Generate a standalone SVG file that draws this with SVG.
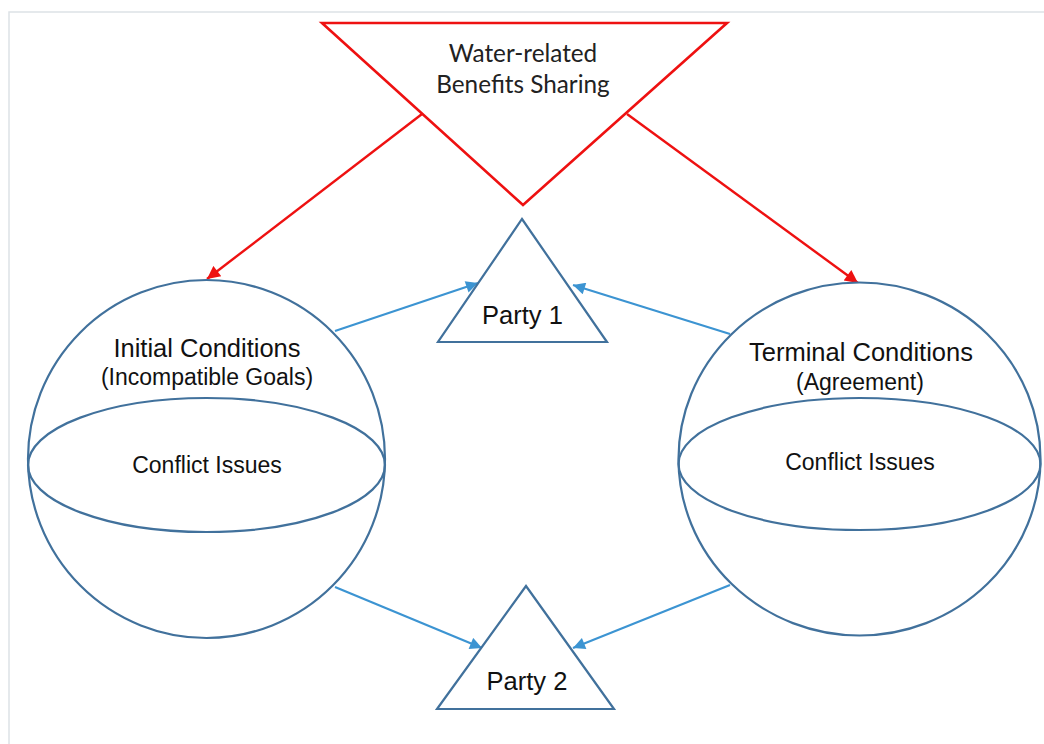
<svg xmlns="http://www.w3.org/2000/svg" width="1044" height="744" viewBox="0 0 1044 744">
  <style>
    .frame { fill: none; stroke: #dde2e6; stroke-width: 1.5; }
    .shape { fill: #ffffff; stroke: #41719c; stroke-width: 2.2; }
    .band { fill: none; stroke: #41719c; stroke-width: 2.2; }
    .source { fill: #ffffff; stroke: #ee1111; stroke-width: 2.6; }
    .red { fill: none; stroke: #ee1111; stroke-width: 2.4; marker-end: url(#headRed); }
    .blue { fill: none; stroke: #3c94d2; stroke-width: 2.2; marker-end: url(#headBlue); }
    .lbl { font-family: "Liberation Sans", Arial, sans-serif; fill: #111111; text-anchor: middle; }
    .big { font-size: 25.5px; }
    .mid { font-size: 23px; }
    .top { font-family: Lato, "Open Sans", sans-serif; font-size: 24.3px; fill: #222222; text-anchor: middle; }
  </style>
  <defs>
    <marker id="headRed" viewBox="0 0 10 10" refX="10" refY="5" markerUnits="userSpaceOnUse" markerWidth="15" markerHeight="13" orient="auto">
      <path d="M0,0 L10,5 L0,10 Z" fill="#ee1111"/>
    </marker>
    <marker id="headBlue" viewBox="0 0 10 10" refX="10" refY="5" markerUnits="userSpaceOnUse" markerWidth="14" markerHeight="12" orient="auto">
      <path d="M0,0 L10,5 L0,10 Z" fill="#3c94d2"/>
    </marker>
  </defs>

  <rect width="1044" height="744" fill="#ffffff"/>
  <path class="frame" d="M9,744 V12 H1044"/>

  <!-- connectors -->
  <g id="connectors">
    <line class="red" x1="422" y1="114" x2="207" y2="279"/>
    <line class="red" x1="627" y1="114" x2="858" y2="283"/>
    <line class="blue" x1="335" y1="331" x2="478" y2="283"/>
    <line class="blue" x1="730" y1="334" x2="573" y2="285"/>
    <line class="blue" x1="335" y1="587" x2="482" y2="648"/>
    <line class="blue" x1="730" y1="585" x2="573" y2="648"/>
  </g>

  <!-- benefits sharing (inverted triangle) -->
  <g id="benefits">
    <polygon class="source" points="322,23 727,23 523,205"/>
    <text class="top" x="523" y="62">Water-related</text>
    <text class="top" x="523" y="93">Benefits Sharing</text>
  </g>

  <!-- initial conditions sphere -->
  <g id="initial">
    <ellipse class="shape" cx="206.5" cy="459" rx="178.5" ry="179"/>
    <ellipse class="band" cx="206.5" cy="465" rx="178.5" ry="67"/>
    <text class="lbl big" x="207" y="357">Initial Conditions</text>
    <text class="lbl mid" x="207" y="385">(Incompatible Goals)</text>
    <text class="lbl mid" x="207" y="473">Conflict Issues</text>
  </g>

  <!-- terminal conditions sphere -->
  <g id="terminal">
    <ellipse class="shape" cx="859.5" cy="459" rx="181" ry="176.5"/>
    <ellipse class="band" cx="859.5" cy="464" rx="181" ry="66"/>
    <text class="lbl big" x="861" y="361">Terminal Conditions</text>
    <text class="lbl mid" x="860" y="390">(Agreement)</text>
    <text class="lbl mid" x="860" y="470">Conflict Issues</text>
  </g>

  <!-- party 1 -->
  <g id="party1">
    <polygon class="shape" points="522,219 607,342 438,342"/>
    <text class="lbl big" x="522.5" y="324">Party 1</text>
  </g>

  <!-- party 2 -->
  <g id="party2">
    <polygon class="shape" points="526,586 614,709 437,709"/>
    <text class="lbl big" x="527" y="690">Party 2</text>
  </g>
</svg>
